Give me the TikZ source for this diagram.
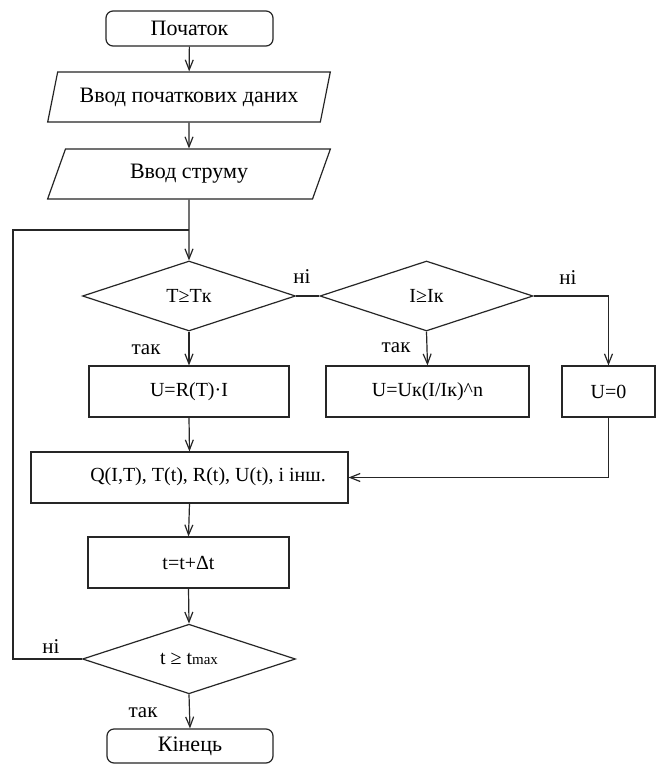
\documentclass[tikz,border=0pt]{standalone}
\usepackage{fontspec}
\setmainfont{Liberation Serif}
\usetikzlibrary{shapes.geometric,arrows.meta}
\begin{document}
\begin{tikzpicture}[x=1pt,y=1pt,
  every node/.style={font=\fontsize{20}{22}\selectfont, text=black},
  cyr/.style={font=\fontsize{22}{24}\selectfont},
  base/.style={draw=black!85, line width=1.2pt, inner sep=0pt},
  term/.style={base, cyr, rectangle, rounded corners=7pt, minimum width=167pt, minimum height=35pt},
  io/.style={base, cyr, trapezium, trapezium left angle=66, trapezium right angle=114, trapezium stretches=true, minimum width=283pt, minimum height=50pt},
  proc/.style={base, rectangle, minimum height=51pt},
  dec/.style={base, diamond, minimum width=213pt, minimum height=70pt},
  lbl/.style={inner sep=0pt, font=\fontsize{21}{23}\selectfont},
  line/.style={draw=black!85, line width=1.2pt},
  arr/.style={line, -{Straight Barb[length=10pt,width=8pt]}}
]
\useasboundingbox[fill=white] (0,0) rectangle (656,-765);

\node[term] (start) at (189.5,-28.5) {Початок};
\node[io] (p1) at (189,-97) {Ввод початкових даних};
\node[io] (p2) at (189,-174) {Ввод струму};
\node[dec] (d1) at (189,-296) {T≥Tк};
\node[dec] (d2) at (426.5,-296) {I≥Iк};
\node[proc, minimum width=200pt] (b1) at (189,-391.5) {U=R(T)·I};
\node[proc, minimum width=203pt] (b2) at (427.5,-391.5) {U=Uк(I/Iк)\^{}n};
\node[proc, minimum width=93pt] (b3) at (608.5,-391.5) {U=0};
\node[proc, minimum width=317pt] (q) at (189.5,-477.5) {};
\node[inner sep=0pt] (qt) at (208,-477) {Q(I,T), T(t), R(t), U(t), і інш.};
\node[proc, minimum width=201pt] (tb) at (188.5,-562.5) {t=t+Δt};
\node[dec, minimum height=69pt] (d3) at (189,-659) {t ≥ t{\fontsize{15}{17}\selectfont max}};
\node[term, minimum width=166pt, minimum height=34pt] (end) at (190,-746) {Кінець};

\node[lbl] at (302,-277) {ні};
\node[lbl] at (568,-278) {ні};
\node[lbl] at (51,-647) {ні};
\node[lbl] at (146,-350) {так};
\node[lbl] at (396,-348) {так};
\node[lbl] at (143,-713) {так};

\coordinate (lpB) at (13,-659);
\coordinate (lpT) at (13,-230);
\coordinate (join) at (189,-230);

\draw[arr] (start) -- (p1);
\draw[arr] (p1) -- (p2);
\draw[arr] (p2.south) -- (d1.north);
\draw[line] (d1.east) -- (d2.west);
\draw[arr] (d2.east) -| (b3.north);
\draw[arr] (d1.south) -- (b1.north);
\draw[arr] (d2.south) -- (b2.north);
\draw[arr] (b1.south) -- (q.north);
\draw[arr] (b3.south) |- (q.east);
\draw[arr] (q.south) -- (tb.north);
\draw[arr] (tb.south) -- (d3.north);
\draw[arr] (d3.south) -- (end.north);
\draw[line] (d3.west) -- (lpB) -- (lpT) -- (join);
\end{tikzpicture}
\end{document}
